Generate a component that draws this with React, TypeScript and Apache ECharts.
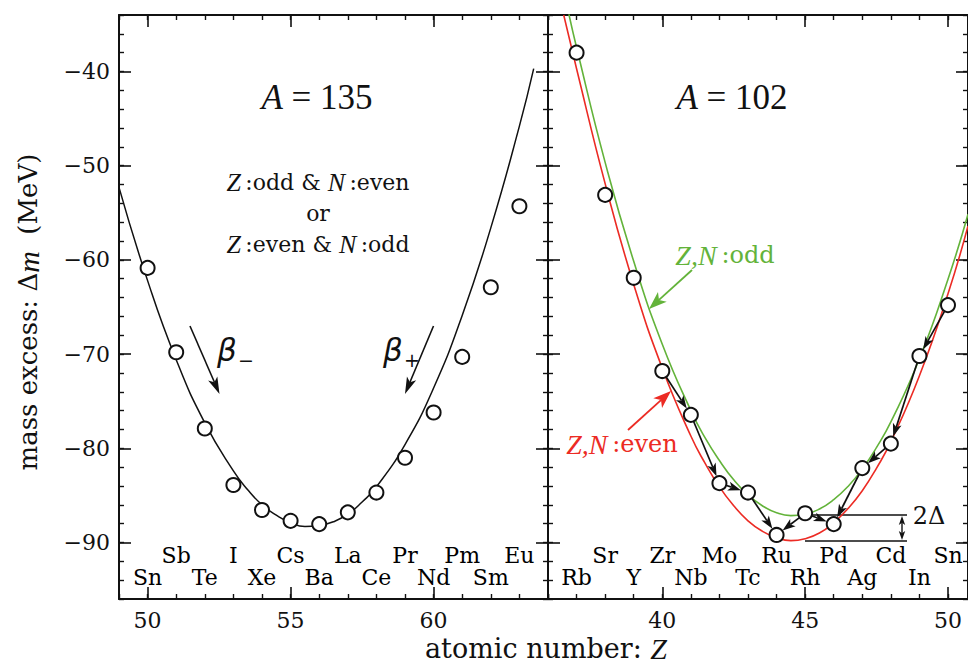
import React, { useEffect, useRef } from 'react';
import * as echarts from 'echarts';

// ---------- data ----------
const leftZ = [50, 51, 52, 53, 54, 55, 56, 57, 58, 59, 60, 61, 62, 63];
const leftMass = [-60.85, -69.8, -77.9, -83.9, -86.55, -87.7, -88.05, -86.8, -84.7, -81.0, -76.2, -70.3, -62.9, -54.3];
const leftElements = ['Sn', 'Sb', 'Te', 'I', 'Xe', 'Cs', 'Ba', 'La', 'Ce', 'Pr', 'Nd', 'Pm', 'Sm', 'Eu'];

const leftCurveZ = [49, 50, 51, 52, 53, 53.5, 54, 54.5, 55, 55.5, 56, 56.5, 57, 57.5, 58, 59, 60, 61, 62, 63, 63.5];
const leftCurveMass = [-52.3, -62.2, -70.6, -77.3, -82.4, -84.4, -86.0, -87.1, -87.9, -88.3, -88.2, -87.8, -87.0, -85.7, -84.1, -79.6, -73.6, -65.9, -56.6, -45.8, -39.7];

const rightZ = [37, 38, 39, 40, 41, 42, 43, 44, 45, 46, 47, 48, 49, 50];
const rightMass = [-38.0, -53.1, -61.9, -71.8, -76.45, -83.7, -84.7, -89.2, -86.9, -88.05, -82.1, -79.5, -70.2, -64.8];
const rightElements = ['Rb', 'Sr', 'Y', 'Zr', 'Nb', 'Mo', 'Tc', 'Ru', 'Rh', 'Pd', 'Ag', 'Cd', 'In', 'Sn'];

const evenCurveZ = [36.55, 37, 38, 39, 40, 41, 41.5, 42, 42.5, 43, 43.5, 44, 44.5, 45, 45.5, 46, 46.5, 47, 47.5, 48, 49, 50, 50.7];
const evenCurveMass = [-34.0, -39.7, -51.9, -62.6, -71.5, -78.7, -81.6, -84.1, -86.1, -87.7, -88.8, -89.5, -89.8, -89.6, -89.0, -87.9, -86.4, -84.5, -82.1, -79.3, -72.3, -63.6, -56.4];

const oddCurveZ = [36.73, 37, 38, 39, 40, 41, 41.5, 42, 42.5, 43, 43.5, 44, 44.5, 45, 45.5, 46, 46.5, 47, 47.5, 48, 49, 50, 50.7];
const oddCurveMass = [-33.9, -37.45, -49.65, -60.15, -68.95, -76.0, -78.9, -81.3, -83.35, -84.95, -86.1, -86.85, -87.15, -87.0, -86.45, -85.45, -84.05, -82.2, -79.9, -77.2, -70.5, -62.05, -55.15];

const decays = [
  ['Zr', 'Nb'], ['Nb', 'Mo'], ['Mo', 'Tc'], ['Tc', 'Ru'], ['Rh', 'Ru'],
  ['Rh', 'Pd'], ['Ag', 'Pd'], ['Cd', 'Ag'], ['In', 'Cd'], ['Sn', 'In'],
];

const leftMajorX = [50, 55, 60];
const leftMinorX = [49, 50, 51, 52, 53, 54, 55, 56, 57, 58, 59, 60, 61, 62, 63, 64];
const rightMajorX = [40, 45, 50];
const rightMinorX = [36, 37, 38, 39, 40, 41, 42, 43, 44, 45, 46, 47, 48, 49, 50];
const majorY = [-90, -80, -70, -60, -50, -40];
const minorY = [-96, -94, -92, -90, -88, -86, -84, -82, -80, -78, -76, -74, -72, -70, -68, -66, -64, -62, -60, -58, -56, -54, -52, -50, -48, -46, -44, -42, -40, -38, -36, -34];

// ---------- style ----------
const INK = '#111111';
const RED = '#ec2b24';
const GREEN = '#63b33a';
const SERIF = 'DejaVu Serif';
const ITAL = 'Liberation Serif';
const Y_MIN = -96;
const Y_MAX = -34;
const ROW_UP = -91.4;
const ROW_LOW = -93.7;

const fmtMinus = (v: number) => String(v).replace('-', '\u2212');

function xAxes(grid: number, min: number, max: number, major: number[], minor: number[]) {
  const base = { gridIndex: grid, type: 'value', min, max, splitLine: { show: false } };
  const line = { show: true, lineStyle: { color: INK, width: 2 } };
  return [
    {
      ...base, position: 'bottom', axisLine: line,
      axisTick: { show: true, inside: true, length: 12, customValues: major, lineStyle: { color: INK, width: 1.6 } },
      axisLabel: { show: true, customValues: major, margin: 10, fontSize: 22, fontFamily: SERIF, color: INK },
    },
    {
      ...base, position: 'bottom', axisLine: { show: false },
      axisTick: { show: true, inside: true, length: 5, customValues: minor, lineStyle: { color: INK, width: 1.4 } },
      axisLabel: { show: false },
    },
    {
      ...base, position: 'top', axisLine: line,
      axisTick: { show: true, inside: true, length: 12, customValues: major, lineStyle: { color: INK, width: 1.6 } },
      axisLabel: { show: false },
    },
    {
      ...base, position: 'top', axisLine: { show: false },
      axisTick: { show: true, inside: true, length: 5, customValues: minor, lineStyle: { color: INK, width: 1.4 } },
      axisLabel: { show: false },
    },
  ];
}

function yAxes(grid: number, labels: boolean) {
  const base = { gridIndex: grid, type: 'value', min: Y_MIN, max: Y_MAX, splitLine: { show: false } };
  const line = { show: true, lineStyle: { color: INK, width: 2 } };
  return [
    {
      ...base, position: 'left', axisLine: line,
      axisTick: { show: true, inside: true, length: 12, customValues: majorY, lineStyle: { color: INK, width: 1.6 } },
      axisLabel: { show: labels, customValues: majorY, margin: 9, fontSize: 22, fontFamily: SERIF, color: INK, formatter: fmtMinus },
    },
    {
      ...base, position: 'left', axisLine: { show: false },
      axisTick: { show: true, inside: true, length: 5, customValues: minorY, lineStyle: { color: INK, width: 1.4 } },
      axisLabel: { show: false },
    },
    {
      ...base, position: 'right', axisLine: line,
      axisTick: { show: true, inside: true, length: 12, customValues: majorY, lineStyle: { color: INK, width: 1.6 } },
      axisLabel: { show: false },
    },
    {
      ...base, position: 'right', axisLine: { show: false },
      axisTick: { show: true, inside: true, length: 5, customValues: minorY, lineStyle: { color: INK, width: 1.4 } },
      axisLabel: { show: false },
    },
  ];
}

function elementLabels(zs: number[], names: string[], evenUp: boolean) {
  return names.map((n, i) => {
    const even = zs[i] % 2 === 0;
    const up = evenUp ? even : !even;
    return { value: [zs[i], up ? ROW_UP : ROW_LOW], name: n };
  });
}

function arrowGraphic(x1: number, y1: number, x2: number, y2: number, color: string, hl: number, hw: number, lw: number) {
  const dx = x2 - x1, dy = y2 - y1;
  const L = Math.hypot(dx, dy);
  const ux = dx / L, uy = dy / L;
  const px = -uy, py = ux;
  const bx = x2 - ux * hl, by = y2 - uy * hl;
  const nx = x2 - ux * hl * 0.75, ny = y2 - uy * hl * 0.75;
  return [
    { type: 'line', shape: { x1, y1, x2: nx, y2: ny }, style: { stroke: color, lineWidth: lw }, silent: true },
    {
      type: 'polygon',
      shape: { points: [[x2, y2], [bx + px * hw, by + py * hw], [nx, ny], [bx - px * hw, by - py * hw]] },
      style: { fill: color }, silent: true,
    },
  ];
}

const circleStyle = { color: '#ffffff', borderColor: INK, borderWidth: 2, opacity: 1 };

export default function App() {
  const ref = useRef<HTMLDivElement>(null);
  useEffect(() => {
    if (!ref.current) return;
    const chart = echarts.init(ref.current, undefined, { renderer: 'svg' });

    const idx: Record<string, number> = {};
    rightElements.forEach((n, i) => { idx[n] = i; });
    const decayData = decays.map(([a, b]) => [rightZ[idx[a]], rightMass[idx[a]], rightZ[idx[b]], rightMass[idx[b]]]);

    const labelSeries = (xi: number, yi: number, data: any[]) => ({
      type: 'scatter', xAxisIndex: xi, yAxisIndex: yi, symbolSize: 0, silent: true, z: 5,
      data,
      itemStyle: { opacity: 1 },
      label: {
        show: true, position: 'inside', formatter: (p: any) => p.name,
        fontFamily: SERIF, fontSize: 22, color: '#000', opacity: 1,
      },
    });

    const italic = (size: number, color: string) => ({ fontFamily: ITAL, fontStyle: 'italic', fontSize: size, fill: color });

    const graphics: any[] = [
      // axis titles
      {
        type: 'text', x: 28, y: 312, rotation: Math.PI / 2,
        style: {
          text: 'mass excess: \u0394{i|m}  (MeV)', fontFamily: SERIF, fontSize: 26, fill: INK,
          align: 'center', verticalAlign: 'middle',
          rich: { i: italic(30, INK) },
        },
      },
      {
        type: 'text', x: 546, y: 648,
        style: {
          text: 'atomic number: {i|Z}', fontFamily: SERIF, fontSize: 27, fill: INK,
          align: 'center', verticalAlign: 'middle',
          rich: { i: italic(30, INK) },
        },
      },
      // left panel annotations
      {
        type: 'text', x: 317, y: 97,
        style: {
          text: '{i|A} = 135', fontFamily: ITAL, fontSize: 35, fill: INK, align: 'center', verticalAlign: 'middle',
          rich: { i: italic(35, INK) },
        },
      },
      {
        type: 'text', x: 318, y: 182,
        style: {
          text: '{i|Z}\u2009:odd & {i|N}\u2009:even', fontFamily: SERIF, fontSize: 22, fill: INK, align: 'center', verticalAlign: 'middle',
          rich: { i: italic(26, INK) },
        },
      },
      { type: 'text', x: 318, y: 213, style: { text: 'or', fontFamily: SERIF, fontSize: 22, fill: INK, align: 'center', verticalAlign: 'middle' } },
      {
        type: 'text', x: 318, y: 244,
        style: {
          text: '{i|Z}\u2009:even & {i|N}\u2009:odd', fontFamily: SERIF, fontSize: 22, fill: INK, align: 'center', verticalAlign: 'middle',
          rich: { i: italic(26, INK) },
        },
      },
      { type: 'text', x: 227, y: 350, style: { text: '\u03b2', fontFamily: 'DejaVu Sans', fontStyle: 'italic', fontSize: 31, fill: INK, align: 'center', verticalAlign: 'middle' } },
      { type: 'text', x: 246, y: 360, style: { text: '\u2212', fontFamily: 'DejaVu Sans', fontSize: 19, fill: INK, align: 'center', verticalAlign: 'middle' } },
      { type: 'text', x: 393, y: 350, style: { text: '\u03b2', fontFamily: 'DejaVu Sans', fontStyle: 'italic', fontSize: 31, fill: INK, align: 'center', verticalAlign: 'middle' } },
      { type: 'text', x: 412, y: 360, style: { text: '+', fontFamily: 'DejaVu Sans', fontSize: 19, fill: INK, align: 'center', verticalAlign: 'middle' } },
      ...arrowGraphic(190, 326, 219.5, 394, INK, 17, 5, 1.6),
      ...arrowGraphic(433.5, 326, 405, 394, INK, 17, 5, 1.6),
      // right panel annotations
      {
        type: 'text', x: 732, y: 97,
        style: {
          text: '{i|A} = 102', fontFamily: ITAL, fontSize: 35, fill: INK, align: 'center', verticalAlign: 'middle',
          rich: { i: italic(35, INK) },
        },
      },
      {
        type: 'text', x: 725, y: 255,
        style: {
          text: '{i|Z,N}\u2009:odd', fontFamily: SERIF, fontSize: 24, fill: GREEN, align: 'center', verticalAlign: 'middle',
          rich: { i: italic(28, GREEN) },
        },
      },
      ...arrowGraphic(692, 270, 649, 309, GREEN, 18, 6.5, 1.8),
      {
        type: 'text', x: 622, y: 444,
        style: {
          text: '{i|Z,N}\u2009:even', fontFamily: SERIF, fontSize: 24, fill: RED, align: 'center', verticalAlign: 'middle',
          rich: { i: italic(28, RED) },
        },
      },
      ...arrowGraphic(628, 430, 671, 391, RED, 18, 6.5, 1.8),
      // 2 Delta marker
      { type: 'line', shape: { x1: 811, y1: 515, x2: 907, y2: 515 }, style: { stroke: INK, lineWidth: 1.6 }, z: 1 },
      { type: 'line', shape: { x1: 805, y1: 541, x2: 907, y2: 541 }, style: { stroke: INK, lineWidth: 1.6 }, z: 1 },
      ...arrowGraphic(902, 528, 902, 516, INK, 9, 3.2, 1.4),
      ...arrowGraphic(902, 528, 902, 540, INK, 9, 3.2, 1.4),
      { type: 'text', x: 929, y: 516, style: { text: '2\u0394', fontFamily: SERIF, fontSize: 24, fill: INK, align: 'center', verticalAlign: 'middle' } },
    ];

    chart.setOption({
      animation: false,
      backgroundColor: '#ffffff',
      grid: [
        { left: 119, top: 15, width: 429, height: 584, containLabel: false },
        { left: 548, top: 15, width: 420, height: 584, containLabel: false },
      ],
      xAxis: [
        ...xAxes(0, 49, 64, leftMajorX, leftMinorX),
        ...xAxes(1, 36, 50.7, rightMajorX, rightMinorX),
      ],
      yAxis: [...yAxes(0, true), ...yAxes(1, false)],
      series: [
        {
          type: 'line', xAxisIndex: 0, yAxisIndex: 0, smooth: true, showSymbol: false, silent: true, z: 2,
          data: leftCurveZ.map((z, i) => [z, leftCurveMass[i]]),
          lineStyle: { color: INK, width: 1.5 },
        },
        {
          type: 'scatter', xAxisIndex: 0, yAxisIndex: 0, symbol: 'circle', symbolSize: 14, z: 4, silent: true,
          data: leftZ.map((z, i) => [z, leftMass[i]]),
          itemStyle: circleStyle,
        },
        labelSeries(0, 0, elementLabels(leftZ, leftElements, false)),
        {
          type: 'line', xAxisIndex: 4, yAxisIndex: 4, smooth: true, showSymbol: false, silent: true, z: 2,
          data: oddCurveZ.map((z, i) => [z, oddCurveMass[i]]),
          lineStyle: { color: GREEN, width: 1.6 },
        },
        {
          type: 'line', xAxisIndex: 4, yAxisIndex: 4, smooth: true, showSymbol: false, silent: true, z: 2,
          data: evenCurveZ.map((z, i) => [z, evenCurveMass[i]]),
          lineStyle: { color: RED, width: 1.6 },
        },
        {
          type: 'custom', xAxisIndex: 4, yAxisIndex: 4, z: 3, silent: true,
          encode: { x: [0, 2], y: [1, 3] },
          data: decayData,
          renderItem: (_p: any, api: any) => {
            const a = api.coord([api.value(0), api.value(1)]);
            const b = api.coord([api.value(2), api.value(3)]);
            const dx = b[0] - a[0], dy = b[1] - a[1];
            const L = Math.hypot(dx, dy);
            const ux = dx / L, uy = dy / L;
            const r = 7.5;
            const sx = a[0] + ux * r, sy = a[1] + uy * r;
            const tx = b[0] - ux * r, ty = b[1] - uy * r;
            const hl = 13, hw = 4.5;
            const bx = tx - ux * hl, by = ty - uy * hl;
            const nx = tx - ux * hl * 0.75, ny = ty - uy * hl * 0.75;
            const px = -uy, py = ux;
            return {
              type: 'group',
              children: [
                { type: 'line', shape: { x1: sx, y1: sy, x2: nx, y2: ny }, style: { stroke: INK, lineWidth: 1.7 } },
                {
                  type: 'polygon',
                  shape: { points: [[tx, ty], [bx + px * hw, by + py * hw], [nx, ny], [bx - px * hw, by - py * hw]] },
                  style: { fill: INK },
                },
              ],
            };
          },
        },
        {
          type: 'scatter', xAxisIndex: 4, yAxisIndex: 4, symbol: 'circle', symbolSize: 14, z: 4, silent: true,
          data: rightZ.map((z, i) => [z, rightMass[i]]),
          itemStyle: circleStyle,
        },
        labelSeries(4, 4, elementLabels(rightZ, rightElements, true)),
      ],
      graphic: graphics,
    });
    return () => chart.dispose();
  }, []);
  return <div ref={ref} style={{ position: 'absolute', left: 0, top: 0, width: 968, height: 666 }} />;
}
